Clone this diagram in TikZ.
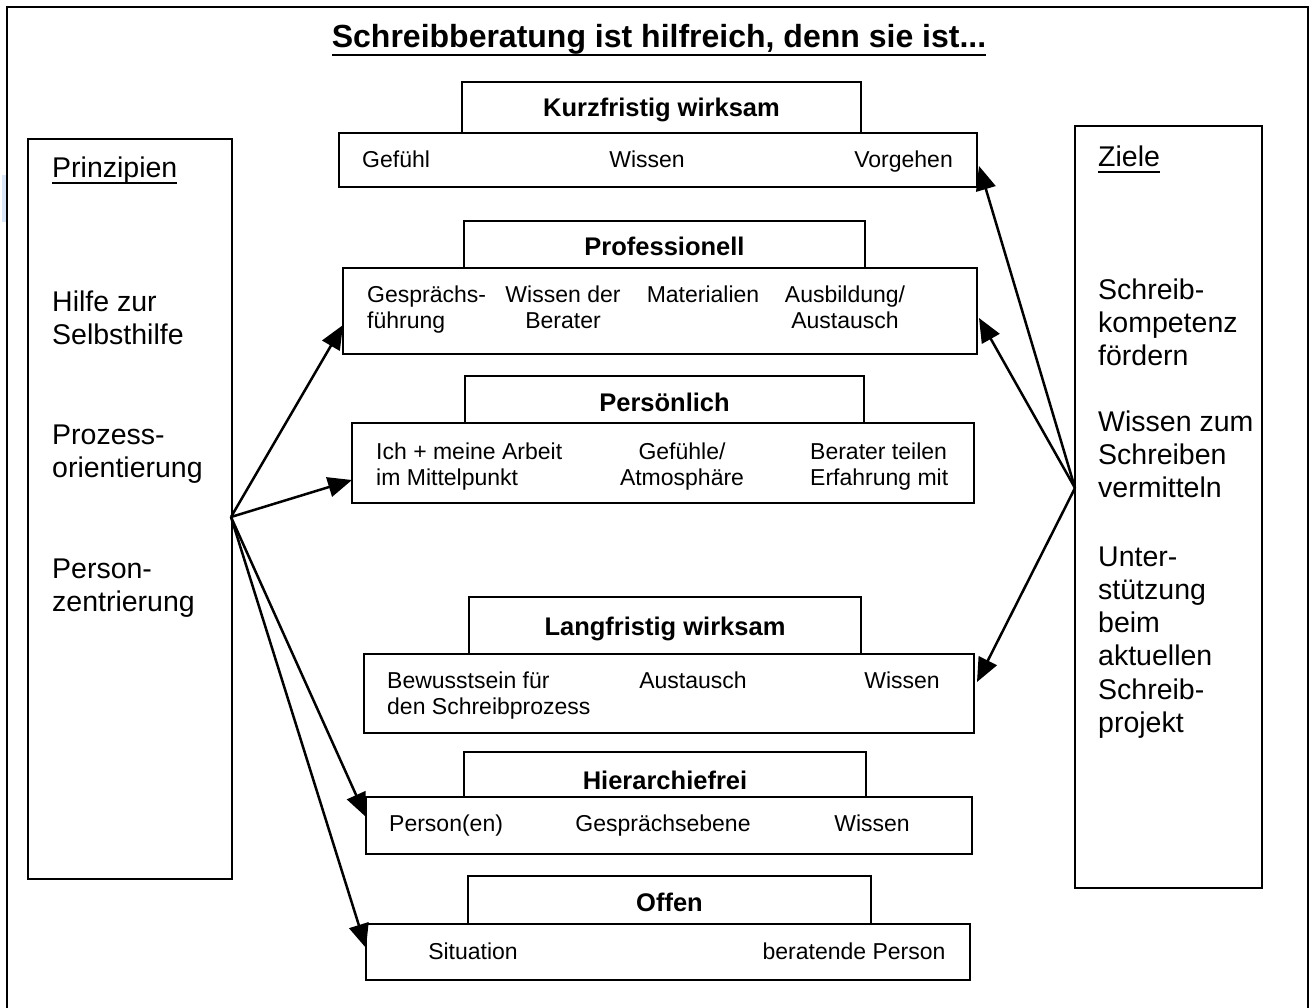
\documentclass[tikz,border=0pt]{standalone}
\usepackage{fontspec}
\setmainfont{Liberation Sans}
\usetikzlibrary{arrows.meta}
\newcommand\tlft[1]{\begin{tabular}[t]{@{}l@{}}#1\end{tabular}}
\newcommand\tcen[1]{\begin{tabular}[t]{@{}c@{}}#1\end{tabular}}
\newcommand\ulbox[3]{\setbox0\hbox{#3}\rlap{\rule[-#1]{\wd0}{#2}}\box0}
\definecolor{artblue}{HTML}{D8E6F7}
\begin{document}
\begin{tikzpicture}[x=1pt,y=-1pt,
 box/.style={draw, line width=2.6pt, fill=white, inner sep=0, outer sep=0, anchor=north west},
 bodytxt/.style={font=\fontsize{23}{26.5}\selectfont, inner sep=0},
 headtxt/.style={font=\fontsize{25.5}{30}\selectfont\bfseries, inner sep=0, anchor=base},
 bigtxt/.style={font=\fontsize{28.5}{33.3}\selectfont, inner sep=0, anchor=base west},
 arr/.style={line width=2.5pt, -{Triangle[length=24pt,width=20pt]}}
]
\useasboundingbox (0,0) rectangle (1311,1008);
\clip (0,0) rectangle (1311,1008);
\fill[artblue] (2,175) rectangle (6,222);
% outer frame
\node[box, fill=none, minimum width=1301pt, minimum height=1010pt] (frame) at (7,7) {};
% title
\node[font=\fontsize{32}{38}\selectfont\bfseries, inner sep=0, anchor=base] (title) at (659,48) {\ulbox{8pt}{2pt}{Schreibberatung ist hilfreich, denn sie ist...}};
% side boxes
\node[box, minimum width=204pt, minimum height=740pt] (left) at (28,139) {};
\node[box, minimum width=187pt, minimum height=762pt] (right) at (1075,126) {};
\node[bigtxt] (prinz) at (52,178) {\ulbox{6pt}{1.8pt}{Prinzipien}};
\node[bigtxt] (p1) at (52,311) {\tlft{Hilfe zur\\Selbsthilfe}};
\node[bigtxt] (p2) at (52,444) {\tlft{Prozess-\\orientierung}};
\node[bigtxt] (p3) at (52,578) {\tlft{Person-\\zentrierung}};
\node[bigtxt] (ziele) at (1098,167) {\ulbox{6pt}{1.8pt}{Ziele}};
\node[bigtxt] (z1) at (1098,299) {\tlft{Schreib-\\kompetenz\\fördern}};
\node[bigtxt] (z2) at (1098,431) {\tlft{Wissen zum\\Schreiben\\vermitteln}};
\node[bigtxt] (z3) at (1098,566) {\tlft{Unter-\\stützung\\beim\\aktuellen\\Schreib-\\projekt}};
% 1 Kurzfristig
\node[box, minimum width=638pt, minimum height=54pt] (kb) at (339,133) {};
\node[box, minimum width=399pt, minimum height=51pt] (kh) at (462,82) {};
\node[headtxt] (kt) at (661.5,117) {Kurzfristig wirksam};
\node[bodytxt, anchor=base west] (k1) at (362,168) {Gefühl};
\node[bodytxt, anchor=base] (k2) at (647,168) {Wissen};
\node[bodytxt, anchor=base east] (k3) at (953,168) {Vorgehen};
% 2 Professionell
\node[box, minimum width=634pt, minimum height=86pt] (pb) at (343,268) {};
\node[box, minimum width=401pt, minimum height=47pt] (ph) at (464,221) {};
\node[headtxt] (pt) at (664.5,255) {Professionell};
\node[bodytxt, anchor=base west] (q1) at (367,302) {\tlft{Gesprächs-\\führung}};
\node[bodytxt, anchor=base] (q2) at (563,302) {\tcen{Wissen der\\Berater}};
\node[bodytxt, anchor=base] (q3) at (703,302) {Materialien};
\node[bodytxt, anchor=base] (q4) at (845,302) {\tcen{Ausbildung/\\Austausch}};
% 3 Persoenlich
\node[box, minimum width=622pt, minimum height=80pt] (eb) at (352,423) {};
\node[box, minimum width=399pt, minimum height=47pt] (eh) at (465,376) {};
\node[headtxt] (et) at (664.5,411) {Persönlich};
\node[bodytxt, anchor=base west] (e1) at (376,459) {\tlft{Ich + meine Arbeit\\im Mittelpunkt}};
\node[bodytxt, anchor=base] (e2) at (682,459) {\tcen{Gefühle/\\Atmosphäre}};
\node[bodytxt, anchor=base west] (e3) at (810,459) {\tlft{Berater teilen\\Erfahrung mit}};
% 4 Langfristig
\node[box, minimum width=610pt, minimum height=79pt] (lb) at (364,654) {};
\node[box, minimum width=392pt, minimum height=57pt] (lh) at (469,597) {};
\node[headtxt] (lt) at (665,635) {Langfristig wirksam};
\node[bodytxt, anchor=base west] (l1) at (387,688) {\tlft{Bewusstsein für\\den Schreibprozess}};
\node[bodytxt, anchor=base] (l2) at (693,688) {Austausch};
\node[bodytxt, anchor=base] (l3) at (902,688) {Wissen};
% 5 Hierarchiefrei
\node[box, minimum width=606pt, minimum height=57pt] (hb) at (366,797) {};
\node[box, minimum width=402pt, minimum height=45pt] (hh) at (464,752) {};
\node[headtxt] (ht) at (665,789) {Hierarchiefrei};
\node[bodytxt, anchor=base west] (h1) at (389,831) {Person(en)};
\node[bodytxt, anchor=base] (h2) at (663,831) {Gesprächsebene};
\node[bodytxt, anchor=base] (h3) at (872,831) {Wissen};
% 6 Offen
\node[box, minimum width=604pt, minimum height=56pt] (ob) at (366,924) {};
\node[box, minimum width=403pt, minimum height=48pt] (oh) at (468,876) {};
\node[headtxt] (ot) at (669.5,911) {Offen};
\node[bodytxt, anchor=base] (o1) at (473,959) {Situation};
\node[bodytxt, anchor=base] (o2) at (854,959) {beratende Person};
% arrows
\coordinate (Ls) at (231,517);
\coordinate (Rs) at (1075,488);
\draw[arr] (Ls) -- (pb.west |- 0,325);
\draw[arr] (Ls) -- (eb.west |- 0,480);
\draw[arr] (Ls) -- (hb.west |- 0,817);
\draw[arr] (Ls) -- (ob.west |- 0,948);
\draw[arr] (Rs) -- ([xshift=2pt]kb.east |- 0,166);
\draw[arr] (Rs) -- ([xshift=2pt]pb.east |- 0,318);
\draw[arr] (Rs) -- ([xshift=3pt]lb.east |- 0,682);
\end{tikzpicture}
\end{document}
